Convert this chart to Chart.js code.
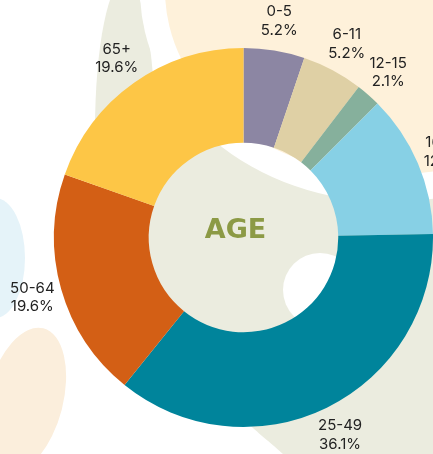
<!DOCTYPE html>
<html>
<head>
<meta charset="utf-8">
<script src="https://cdn.jsdelivr.net/npm/chart.js@4/dist/chart.umd.min.js"></script>
<style>
	html, body { margin: 0; padding: 0; background: #ffffff; overflow: hidden; }
	canvas { display: block; }
</style>
</head>
<body>
<canvas id="canvasage" width="433" height="454"></canvas>
<script>

var ageLabels = ["0-5", "6-11", "12-15", "16-24", "25-49", "50-64", "65+"];
var agePercent = [5.2, 5.2, 2.1, 12.2, 36.1, 19.6, 19.6];
var ageColors = ["#8c86a3", "#dfd0a5", "#86b09c", "#87d0e5", "#00849b", "#d35f15", "#fdc646"];
var centerTitle = "AGE";

// decorative blobs behind the doughnut
var backdrop_plugin = {
	id: 'backdrop',
	beforeDraw: function(chart){
		var ctx = chart.ctx;
		ctx.save();
		ctx.fillStyle = "#ffffff";
		ctx.fillRect(0, 0, chart.width, chart.height);

		// grey-green strip top left
		ctx.fillStyle = "#ebecdf";
		ctx.beginPath();
		ctx.ellipse(125, 130, 30, 150, 0, 0, Math.PI * 2);
		ctx.fill();

		// big grey-green shape (centre + bottom right)
		ctx.beginPath();
		ctx.moveTo(433, 140);
		ctx.lineTo(433, 454);
		ctx.lineTo(283, 454);
		ctx.bezierCurveTo(268, 440, 255, 432, 230, 405);
		ctx.lineTo(140, 280);
		ctx.lineTo(140, 140);
		ctx.closePath();
		ctx.fill();

		// white band
		ctx.fillStyle = "#ffffff";
		ctx.beginPath();
		ctx.ellipse(390, -10, 250, 212, 0, 0, Math.PI * 2);
		ctx.fill();

		// cream top right
		ctx.fillStyle = "#fef1da";
		ctx.beginPath();
		ctx.ellipse(390, -10, 225, 185, 0, 0, Math.PI * 2);
		ctx.fill();

		// white bubble inside hole
		ctx.fillStyle = "#ffffff";
		ctx.beginPath();
		ctx.arc(320, 290, 37, 0, Math.PI * 2);
		ctx.fill();

		// light blue blob left
		ctx.fillStyle = "#e5f3f9";
		ctx.beginPath();
		ctx.ellipse(-5, 258, 30, 60, 0, 0, Math.PI * 2);
		ctx.fill();

		// pale orange blob bottom left
		ctx.fillStyle = "#fbeedc";
		ctx.beginPath();
		ctx.ellipse(25, 400, 38, 74, 0.25, 0, Math.PI * 2);
		ctx.fill();

		ctx.restore();
	}
};

// category + percent labels outside each slice, title in the hole
var outer_labels_plugin = {
	id: 'outerlabels',
	afterDatasetsDraw: function(chart){
		var ctx = chart.ctx;
		var meta = chart.getDatasetMeta(0);
		ctx.save();
		ctx.fillStyle = "#222222";
		ctx.font = "15px Inter";
		ctx.textAlign = "center";
		ctx.textBaseline = "middle";
		meta.data.forEach(function(arc, i){
			var mid = (arc.startAngle + arc.endAngle) / 2;
			var r = arc.outerRadius + 30;
			var x = arc.x + Math.cos(mid) * r;
			var y = arc.y + Math.sin(mid) * r;
			ctx.fillText(ageLabels[i], x, y - 9);
			ctx.fillText(agePercent[i].toFixed(1) + "%", x, y + 9.5);
		});

		var first = meta.data[0];
		ctx.fillStyle = "#8c9a45";
		ctx.font = "bold 27px 'DejaVu Sans'";
		ctx.fillText(centerTitle, first.x - 8, first.y - 7);
		ctx.restore();
	}
};

function init_chart_age(){

	if( typeof (Chart) === 'undefined'){ return; }

	var chart_doughnut_settings = {
		type: 'doughnut',
		data: {
			labels: ageLabels,
			datasets: [{
				data: agePercent,
				backgroundColor: ageColors,
				borderWidth: 0
			}]
		},
		options: {
			responsive: false,
			animation: false,
			cutout: '50%',
			layout: { padding: { left: 54, right: 0, top: 48, bottom: 27 } },
			plugins: {
				legend: { display: false },
				tooltip: { enabled: false }
			}
		},
		plugins: [backdrop_plugin, outer_labels_plugin]
	};

	var chart_doughnut = new Chart(document.getElementById('canvasage'), chart_doughnut_settings);
}

init_chart_age();
</script>
</body>
</html>
